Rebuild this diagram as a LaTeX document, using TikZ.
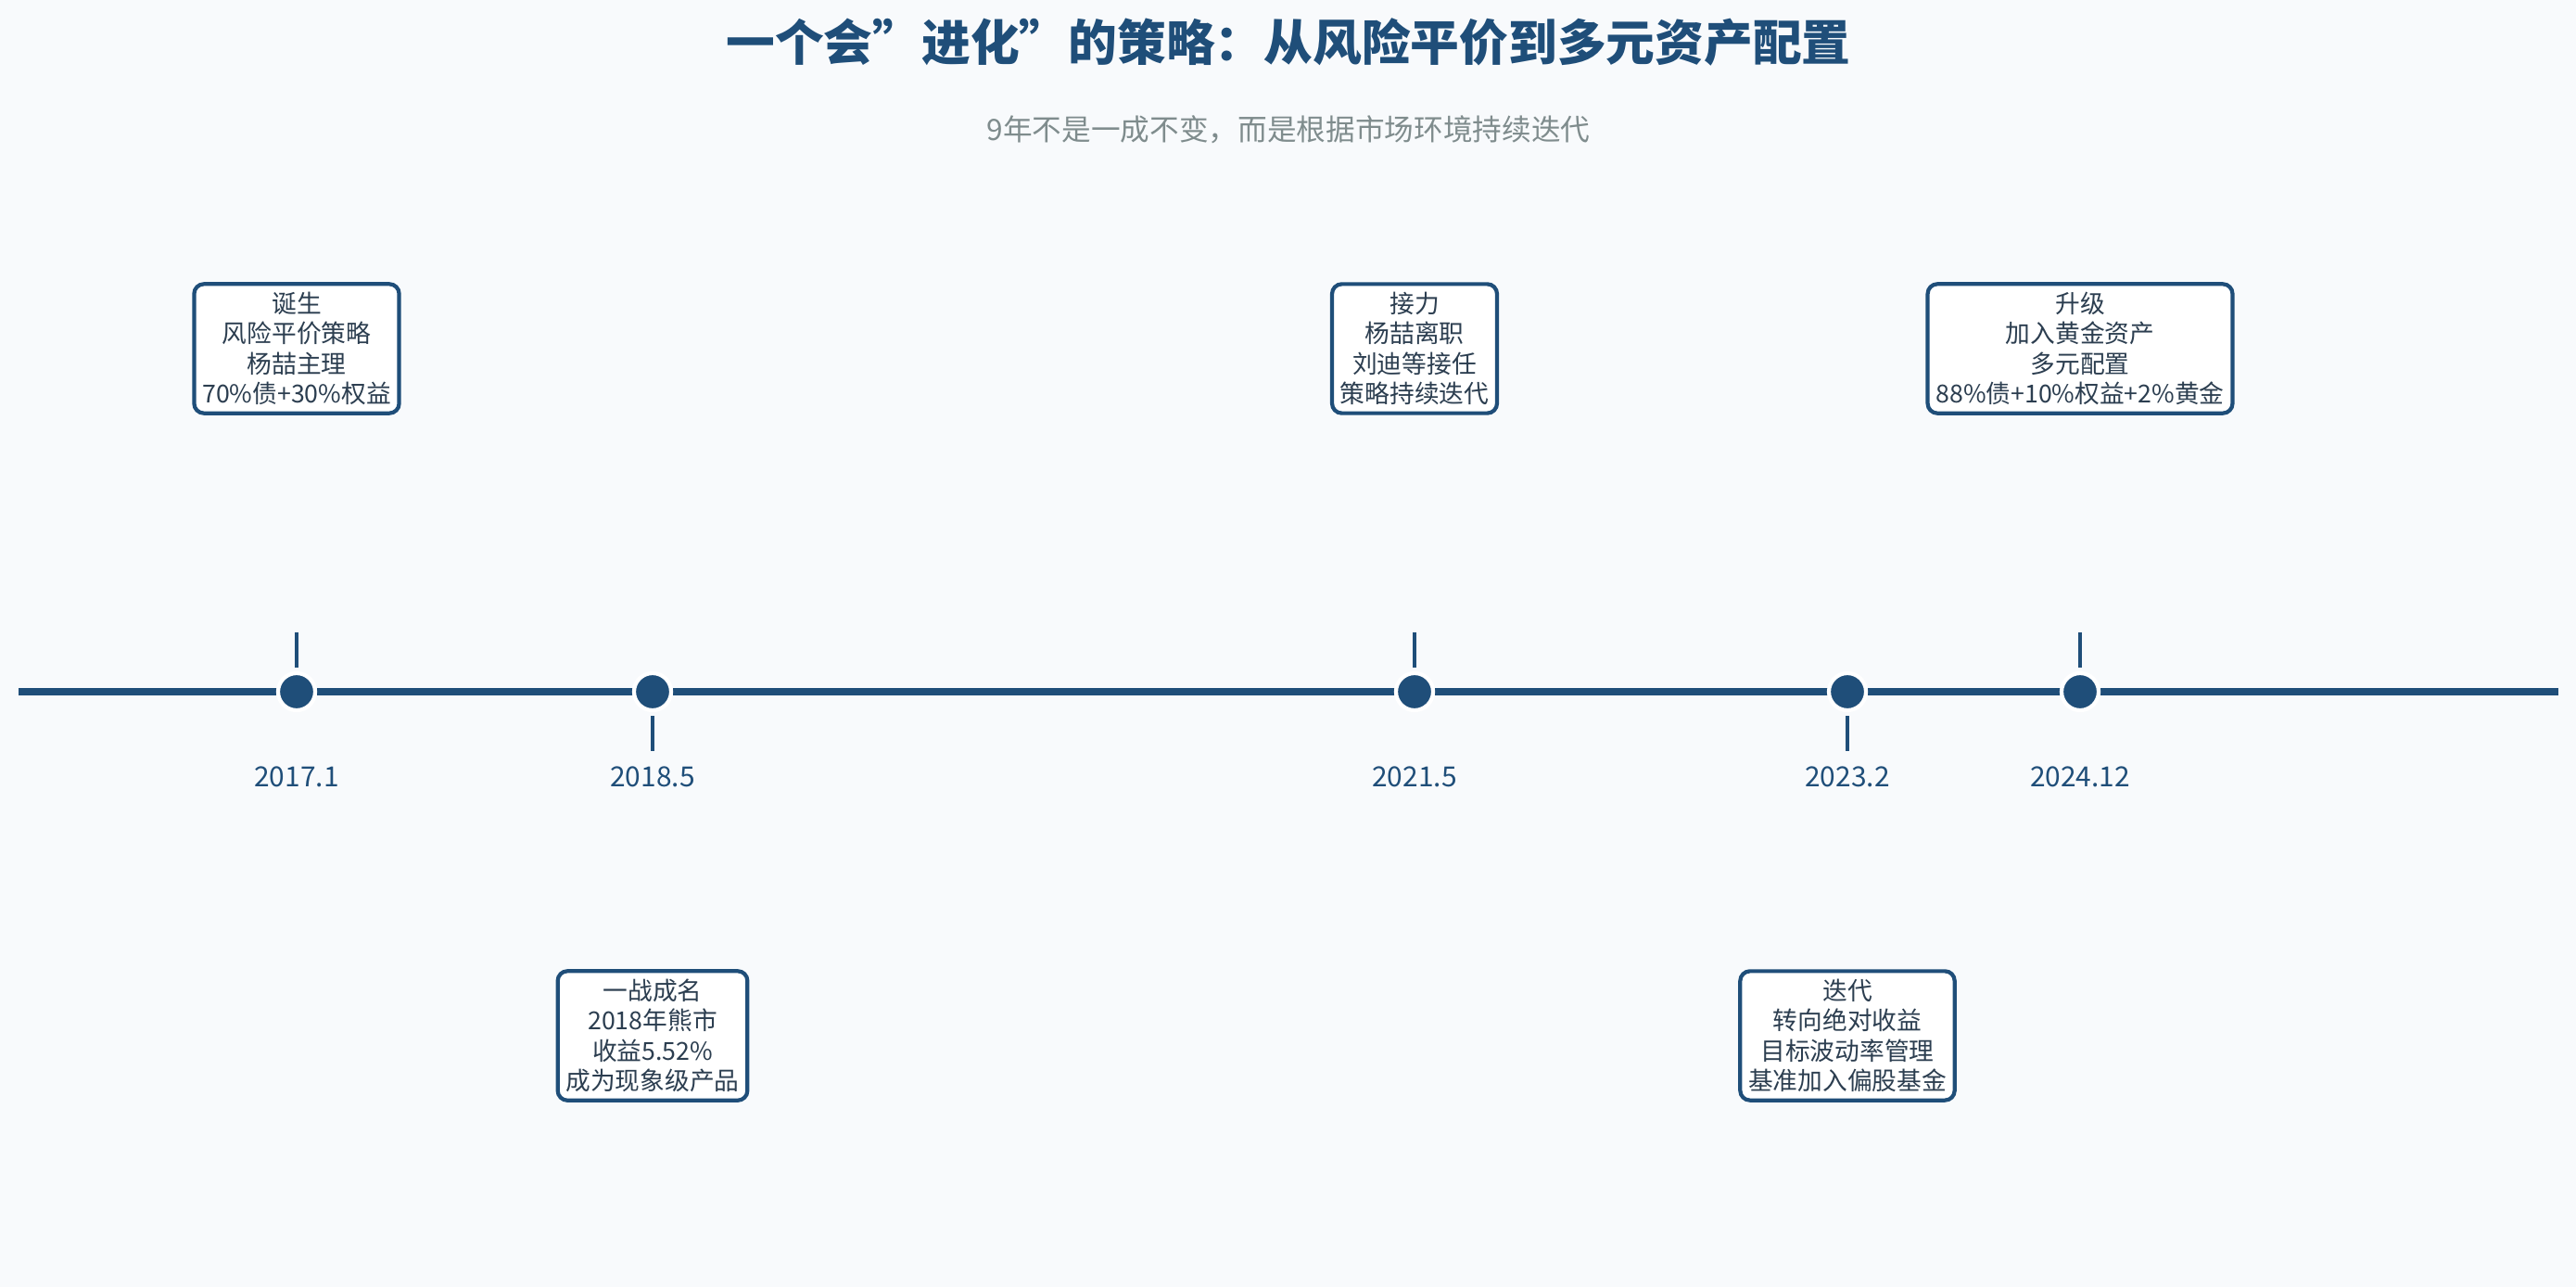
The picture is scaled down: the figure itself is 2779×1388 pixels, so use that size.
\documentclass[tikz,border=0pt]{standalone}
\usepackage{fontspec}
\setmainfont{Noto Sans CJK SC}
\definecolor{bg}{HTML}{F8FAFC}
\definecolor{navy}{HTML}{1F4E79}
\definecolor{sub}{HTML}{7F8C8D}
\definecolor{txt}{HTML}{2C3E50}
\begin{document}
\begin{tikzpicture}[x=0.01cm,y=-0.01cm,
  dot/.style={circle,fill=navy,draw=white,line width=1.2pt,minimum size=0.4cm,inner sep=0pt},
  evbox/.style={draw=navy,line width=1.2pt,rounded corners=3pt,fill=white,align=center,font=\fontsize{7.6}{9.2}\selectfont,text=txt,inner sep=2.5pt},
  date/.style={font=\fontsize{8.5}{10}\selectfont,text=navy},
  tick/.style={navy,line width=1.3pt}]
\fill[bg] (0,0) rectangle (2779,1388);
\useasboundingbox (0,0) rectangle (2779,1388);
\node[font=\bfseries\fontsize{15}{18}\selectfont,text=navy] (title) at (1390,45) {一个会"进化"的策略：从风险平价到多元资产配置};
\node[font=\fontsize{9}{11}\selectfont,text=sub] (subt) at (1390,140) {9年不是一成不变，而是根据市场环境持续迭代};
\coordinate (L) at (20,746); \coordinate (R) at (2760,746);
\draw[navy,line width=2.2pt] (L) -- (R);
\foreach \n/\x/\d/\s in {a/320/2017.1/-1,b/704/2018.5/1,c/1526/2021.5/-1,d/1993/2023.2/1,e/2244/2024.12/-1}{
  \node[dot] (\n) at (\x,746) {};
  \draw[tick] ([yshift=-\s*0.26cm]\n.center) -- ([yshift=-\s*0.64cm]\n.center);
  \node[date] (\n date) at (\x,838) {\d};
}
\node[evbox] (ba) at (320,376) {诞生\\风险平价策略\\杨喆主理\\70\%债+30\%权益};
\node[evbox] (bb) at (704,1117) {一战成名\\2018年熊市\\收益5.52\%\\成为现象级产品};
\node[evbox] (bc) at (1526,376) {接力\\杨喆离职\\刘迪等接任\\策略持续迭代};
\node[evbox] (bd) at (1993,1117) {迭代\\转向绝对收益\\目标波动率管理\\基准加入偏股基金};
\node[evbox] (be) at (2244,376) {升级\\加入黄金资产\\多元配置\\88\%债+10\%权益+2\%黄金};
\end{tikzpicture}
\end{document}
